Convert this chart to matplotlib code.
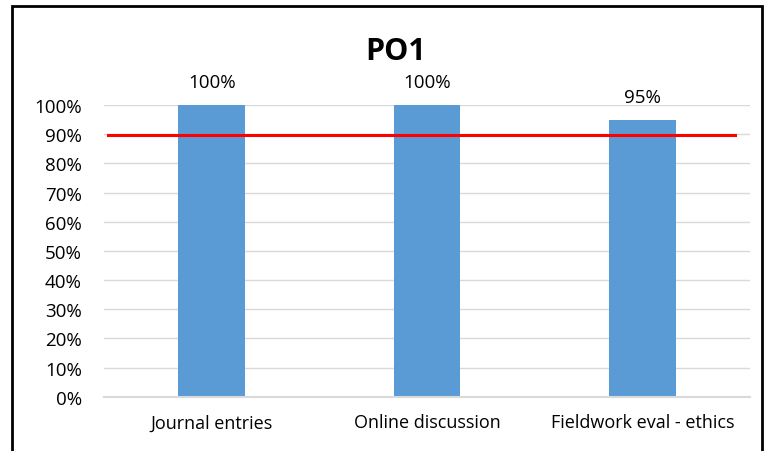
import matplotlib.pyplot as plt
from matplotlib.patches import Rectangle
from matplotlib.ticker import PercentFormatter

categories = ["Journal entries", "Online discussion", "Fieldwork eval - ethics"]
values = [1.00, 1.00, 0.95]
value_labels = ["100%", "100%", "95%"]
target = 0.897

plt.rcParams['font.family'] = ['Open Sans', 'DejaVu Sans']

fig = plt.figure(figsize=(7.72, 4.52), dpi=100)
ax = fig.add_axes([0.1347, 0.120, 0.837, 0.6455])

x = range(len(categories))
bars = ax.bar(x, values, width=0.31, color="#5b9bd5", zorder=2)
for rect, lab in zip(bars, value_labels):
    ax.annotate(lab, (rect.get_x() + rect.get_width() / 2, rect.get_height()),
                xytext=(0, 10), textcoords="offset points", ha="center", va="bottom",
                fontsize=13.5, annotation_clip=False)

ax.axhline(target, xmin=0.006, xmax=0.976, color="#ff0000", linewidth=2.2, zorder=3)

ax.set_xlim(-0.5, 2.5)
ax.set_ylim(0, 1.0)
ax.set_yticks([i / 10 for i in range(11)])
ax.yaxis.set_major_formatter(PercentFormatter(1.0, decimals=0))
ax.set_xticks(list(x))
ax.set_xticklabels(categories)
ax.tick_params(axis="both", length=0, labelsize=13.5)
ax.tick_params(axis="x", pad=12, labelsize=13)
ax.tick_params(axis="y", pad=16)
ax.grid(axis="y", color="#d9d9d9", linewidth=1, zorder=0)
for s in ["top", "right", "left"]:
    ax.spines[s].set_visible(False)
ax.spines["bottom"].set_color("#d9d9d9")
ax.spines["bottom"].set_linewidth(1.5)

fig.text(0.512, 0.884, "PO1", ha="center", va="center", fontsize=22, fontweight="bold")

fig.patches.append(Rectangle((12 / 772, -0.01), 750 / 772, 0.995, transform=fig.transFigure,
                             fill=False, edgecolor="black", linewidth=2))

fig.savefig("out.png", dpi=100)
